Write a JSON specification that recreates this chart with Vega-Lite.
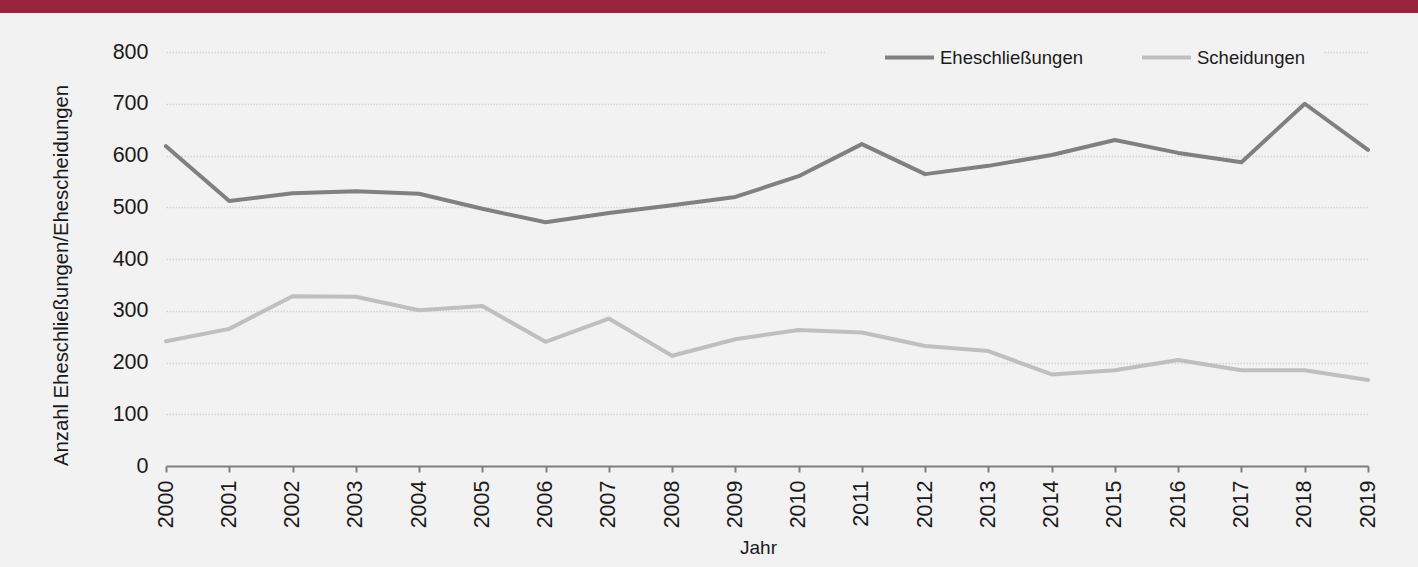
{
  "$schema": "https://vega.github.io/schema/vega-lite/v6.json",
  "background": "#9a2340",
  "autosize": {"type": "none"},
  "padding": {"left": 0, "top": 13, "right": 0, "bottom": 0},
  "width": 1418,
  "height": 554,
  "view": {"fill": "#f2f2f2", "stroke": null},
  "config": {"font": "Liberation Sans"},
  "data": {
    "values": [
      {"Jahr": 2000, "Serie": "Eheschließungen", "Anzahl": 618},
      {"Jahr": 2001, "Serie": "Eheschließungen", "Anzahl": 512},
      {"Jahr": 2002, "Serie": "Eheschließungen", "Anzahl": 527},
      {"Jahr": 2003, "Serie": "Eheschließungen", "Anzahl": 531},
      {"Jahr": 2004, "Serie": "Eheschließungen", "Anzahl": 526},
      {"Jahr": 2005, "Serie": "Eheschließungen", "Anzahl": 497},
      {"Jahr": 2006, "Serie": "Eheschließungen", "Anzahl": 471},
      {"Jahr": 2007, "Serie": "Eheschließungen", "Anzahl": 489},
      {"Jahr": 2008, "Serie": "Eheschließungen", "Anzahl": 504},
      {"Jahr": 2009, "Serie": "Eheschließungen", "Anzahl": 520},
      {"Jahr": 2010, "Serie": "Eheschließungen", "Anzahl": 560},
      {"Jahr": 2011, "Serie": "Eheschließungen", "Anzahl": 622},
      {"Jahr": 2012, "Serie": "Eheschließungen", "Anzahl": 564},
      {"Jahr": 2013, "Serie": "Eheschließungen", "Anzahl": 580},
      {"Jahr": 2014, "Serie": "Eheschließungen", "Anzahl": 601},
      {"Jahr": 2015, "Serie": "Eheschließungen", "Anzahl": 630},
      {"Jahr": 2016, "Serie": "Eheschließungen", "Anzahl": 605},
      {"Jahr": 2017, "Serie": "Eheschließungen", "Anzahl": 587},
      {"Jahr": 2018, "Serie": "Eheschließungen", "Anzahl": 700},
      {"Jahr": 2019, "Serie": "Eheschließungen", "Anzahl": 611},
      {"Jahr": 2000, "Serie": "Scheidungen", "Anzahl": 241},
      {"Jahr": 2001, "Serie": "Scheidungen", "Anzahl": 265},
      {"Jahr": 2002, "Serie": "Scheidungen", "Anzahl": 328},
      {"Jahr": 2003, "Serie": "Scheidungen", "Anzahl": 327},
      {"Jahr": 2004, "Serie": "Scheidungen", "Anzahl": 301},
      {"Jahr": 2005, "Serie": "Scheidungen", "Anzahl": 309},
      {"Jahr": 2006, "Serie": "Scheidungen", "Anzahl": 240},
      {"Jahr": 2007, "Serie": "Scheidungen", "Anzahl": 285},
      {"Jahr": 2008, "Serie": "Scheidungen", "Anzahl": 213},
      {"Jahr": 2009, "Serie": "Scheidungen", "Anzahl": 245},
      {"Jahr": 2010, "Serie": "Scheidungen", "Anzahl": 263},
      {"Jahr": 2011, "Serie": "Scheidungen", "Anzahl": 258},
      {"Jahr": 2012, "Serie": "Scheidungen", "Anzahl": 232},
      {"Jahr": 2013, "Serie": "Scheidungen", "Anzahl": 222},
      {"Jahr": 2014, "Serie": "Scheidungen", "Anzahl": 177},
      {"Jahr": 2015, "Serie": "Scheidungen", "Anzahl": 185},
      {"Jahr": 2016, "Serie": "Scheidungen", "Anzahl": 205},
      {"Jahr": 2017, "Serie": "Scheidungen", "Anzahl": 185},
      {"Jahr": 2018, "Serie": "Scheidungen", "Anzahl": 185},
      {"Jahr": 2019, "Serie": "Scheidungen", "Anzahl": 166}
    ]
  },
  "mark": {"type": "line", "strokeWidth": 4, "strokeJoin": "round", "strokeCap": "round"},
  "encoding": {
    "x": {
      "field": "Jahr",
      "type": "ordinal",
      "scale": {"type": "point", "padding": 0, "range": [166, 1368]},
      "axis": {
        "offset": -101,
        "title": "Jahr",
        "titleX": 758,
        "titleFontSize": 19,
        "titleFontWeight": "normal",
        "titleColor": "#1a1a1a",
        "titlePadding": 11,
        "labelAngle": 270,
        "labelFontSize": 21.5,
        "labelColor": "#1a1a1a",
        "labelPadding": 8,
        "domainColor": "#808080",
        "domainWidth": 2,
        "tickColor": "#808080",
        "tickWidth": 2,
        "tickSize": 6,
        "grid": false
      }
    },
    "y": {
      "field": "Anzahl",
      "type": "quantitative",
      "scale": {"domain": [0, 800], "range": [453, 39]},
      "axis": {
        "offset": -166,
        "title": "Anzahl Eheschließungen/Ehescheidungen",
        "titleY": 262,
        "titleFontSize": 20.3,
        "titleFontWeight": "normal",
        "titleColor": "#1a1a1a",
        "titlePadding": 41,
        "values": [0, 100, 200, 300, 400, 500, 600, 700, 800],
        "labelFontSize": 21.5,
        "labelColor": "#1a1a1a",
        "labelPadding": 18,
        "ticks": false,
        "tickSize": 0,
        "domain": false,
        "grid": true,
        "gridColor": "#d4d4d4",
        "gridWidth": 1.5,
        "gridDash": [1.5, 1.5]
      }
    },
    "color": {
      "field": "Serie",
      "type": "nominal",
      "scale": {"domain": ["Eheschließungen", "Scheidungen"], "range": ["#808080", "#bfbfbf"]},
      "legend": {
        "orient": "none",
        "legendX": 825,
        "legendY": 1,
        "direction": "horizontal",
        "columns": 2,
        "gridAlign": "all",
        "title": "\u00a0",
        "titleOrient": "left",
        "titleFontSize": 10,
        "titlePadding": 41,
        "padding": 17,
        "fillColor": "#f2f2f2",
        "symbolType": "stroke",
        "symbolSize": 2401,
        "symbolStrokeWidth": 4,
        "labelFontSize": 18.5,
        "labelColor": "#1a1a1a",
        "labelOffset": 4,
        "columnPadding": 51
      }
    }
  }
}
